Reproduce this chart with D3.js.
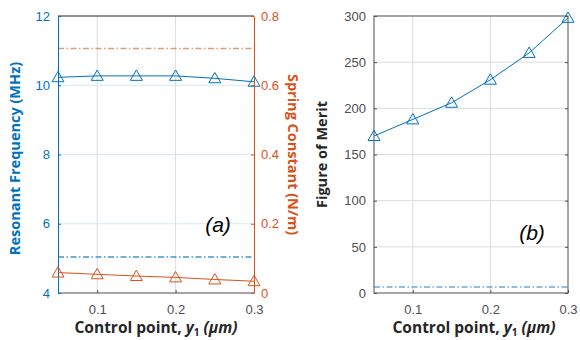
<!DOCTYPE html>
<html>
<head>
<meta charset="utf-8">
<script src="https://cdn.jsdelivr.net/npm/d3@7"></script>
<style>
  body { margin: 0; background: #fff; }
  svg { display: block; }
</style>
</head>
<body>
<div id="chart"></div>
<script>
// data
var controlPoints = [0.05, 0.1, 0.15, 0.2, 0.25, 0.3];
var resonantFreq = [10.23, 10.27, 10.27, 10.27, 10.2, 10.1];
var springConst = [0.059, 0.054, 0.049, 0.045, 0.039, 0.034];
var figureOfMerit = [170, 188, 206, 231, 260, 298];
var freqLimit = 5.04;
var springLimit = 0.706;
var meritLimit = 6.5;

var xTicks = [0.1, 0.2, 0.3];
var freqTicks = [4, 6, 8, 10, 12];
var springTicks = [0, 0.2, 0.4, 0.6, 0.8];
var meritTicks = [0, 50, 100, 150, 200, 250, 300];

var blue = "#0072BD";
var orange = "#D95319";
var tickFont = "Liberation Sans, Arial, sans-serif";
var labelFont = "Open Sans, Noto Sans, sans-serif";

var svg = d3.select("#chart").append("svg")
  .attr("width", 580)
  .attr("height", 340);

// "top" is taken by window.top, so use other names
var plotTop = 16, plotBottom = 293;

// dash-dot like matlab
var dashDot = "6,2.5,1.5,2.5";

function triangle(g, pts, color) {
  g.selectAll(".mk").data(pts).enter().append("path")
    .attr("d", d3.symbol().type(d3.symbolTriangle).size(62))
    .attr("transform", d => `translate(${d[0]},${d[1] + 1})`)
    .attr("fill", "none")
    .attr("stroke", color)
    .attr("stroke-width", 1);
}

// ---------- panel (a) ----------
var xA = d3.scaleLinear().domain([0.05, 0.3]).range([58, 254]);
var yFreq = d3.scaleLinear().domain([4, 12]).range([plotBottom, plotTop]);
var ySpring = d3.scaleLinear().domain([0, 0.8]).range([plotBottom, plotTop]);

var gA = svg.append("g");

// grid
gA.selectAll(".vgrid").data(xTicks.filter(t => t < 0.3)).enter().append("line")
  .attr("x1", d => xA(d)).attr("x2", d => xA(d))
  .attr("y1", plotTop).attr("y2", plotBottom)
  .attr("stroke", "#dcdcdc").attr("stroke-width", 1);
gA.selectAll(".hgrid").data(freqTicks.slice(1, -1)).enter().append("line")
  .attr("x1", 58).attr("x2", 254)
  .attr("y1", d => yFreq(d)).attr("y2", d => yFreq(d))
  .attr("stroke", "#d6e8f5").attr("stroke-width", 1);

// limits
gA.append("line")
  .attr("x1", 58).attr("x2", 254)
  .attr("y1", ySpring(springLimit)).attr("y2", ySpring(springLimit))
  .attr("stroke", orange).attr("stroke-opacity", 0.6).attr("stroke-width", 1.5)
  .attr("stroke-dasharray", dashDot);
gA.append("line")
  .attr("x1", 58).attr("x2", 254)
  .attr("y1", yFreq(freqLimit)).attr("y2", yFreq(freqLimit))
  .attr("stroke", blue).attr("stroke-opacity", 0.75).attr("stroke-width", 1.5)
  .attr("stroke-dasharray", dashDot);

// box
gA.append("line").attr("x1", 58).attr("x2", 254).attr("y1", plotTop).attr("y2", plotTop)
  .attr("stroke", "#262626").attr("stroke-width", 1);
gA.append("line").attr("x1", 58).attr("x2", 254).attr("y1", plotBottom).attr("y2", plotBottom)
  .attr("stroke", "#4d4d4d").attr("stroke-width", 1);

// x axis ticks
var axA = gA.append("g").attr("transform", `translate(0,${plotBottom})`)
  .call(d3.axisBottom(xA).tickValues(xTicks).tickFormat(d3.format(".1f")).tickSizeInner(-3).tickSizeOuter(0).tickPadding(12));
axA.select(".domain").remove();
axA.selectAll("line").attr("stroke", "#4d4d4d");
axA.selectAll("text").attr("fill", "#4d4d4d").attr("font-family", tickFont).attr("font-size", 13);

// left y axis
var ayF = gA.append("g").attr("transform", "translate(58,0)")
  .call(d3.axisLeft(yFreq).tickValues(freqTicks).tickSizeInner(-3).tickSizeOuter(0).tickPadding(8));
ayF.select(".domain").attr("stroke", blue);
ayF.selectAll("line").attr("stroke", blue);
ayF.selectAll("text").attr("fill", blue).attr("font-family", tickFont).attr("font-size", 13);

// right y axis
var ayS = gA.append("g").attr("transform", "translate(254,0)")
  .call(d3.axisRight(ySpring).tickValues(springTicks).tickFormat(d => d === 0 ? "0" : d3.format(".1f")(d)).tickSizeInner(-3).tickSizeOuter(0).tickPadding(7));
ayS.select(".domain").attr("stroke", orange);
ayS.selectAll("line").attr("stroke", orange);
ayS.selectAll("text").attr("fill", orange).attr("font-family", tickFont).attr("font-size", 13);

// series
var freqPts = controlPoints.map((c, i) => [xA(c), yFreq(resonantFreq[i])]);
var springPts = controlPoints.map((c, i) => [xA(c), ySpring(springConst[i])]);
gA.append("path").attr("d", d3.line()(freqPts))
  .attr("fill", "none").attr("stroke", blue).attr("stroke-width", 1);
triangle(gA.append("g"), freqPts, blue);
gA.append("path").attr("d", d3.line()(springPts))
  .attr("fill", "none").attr("stroke", orange).attr("stroke-width", 1);
triangle(gA.append("g"), springPts, orange);

// labels
gA.append("text").attr("x", 218).attr("y", 232).attr("text-anchor", "middle")
  .attr("font-family", tickFont).attr("font-style", "italic").attr("font-size", 21)
  .attr("fill", "#000").text("(a)");
gA.append("text")
  .attr("transform", `translate(20,${(plotTop + plotBottom) / 2 + 4}) rotate(-90)`)
  .attr("text-anchor", "middle").attr("font-family", labelFont).attr("font-weight", "bold")
  .attr("font-size", 14.5).attr("fill", blue).text("Resonant Frequency (MHz)");
gA.append("text")
  .attr("transform", `translate(288,${(plotTop + plotBottom) / 2}) rotate(90)`)
  .attr("text-anchor", "middle").attr("font-family", labelFont).attr("font-weight", "bold")
  .attr("font-size", 14.5).attr("fill", orange).text("Spring Constant (N/m)");

function xLabel(g, cx) {
  var t = g.append("text").attr("x", cx).attr("y", 333).attr("text-anchor", "middle")
    .attr("font-family", labelFont).attr("font-weight", "bold").attr("font-size", 15.5)
    .attr("fill", "#262626");
  t.append("tspan").text("Control point, ");
  t.append("tspan").attr("font-style", "italic").text("y");
  t.append("tspan").attr("font-size", 10).attr("dy", 3).text("1");
  t.append("tspan").attr("dy", -3).attr("font-style", "italic").text(" (μm)");
}
xLabel(gA, 156);

// ---------- panel (b) ----------
var xB = d3.scaleLinear().domain([0.05, 0.3]).range([374, 568]);
var yMerit = d3.scaleLinear().domain([0, 300]).range([plotBottom, plotTop]);
var gB = svg.append("g");

gB.selectAll(".vgrid").data(xTicks.filter(t => t < 0.3)).enter().append("line")
  .attr("x1", d => xB(d)).attr("x2", d => xB(d))
  .attr("y1", plotTop).attr("y2", plotBottom)
  .attr("stroke", "#dcdcdc").attr("stroke-width", 1);
gB.selectAll(".hgrid").data(meritTicks.slice(1, -1)).enter().append("line")
  .attr("x1", 374).attr("x2", 568)
  .attr("y1", d => yMerit(d)).attr("y2", d => yMerit(d))
  .attr("stroke", "#dcdcdc").attr("stroke-width", 1);

gB.append("line")
  .attr("x1", 374).attr("x2", 568)
  .attr("y1", yMerit(meritLimit)).attr("y2", yMerit(meritLimit))
  .attr("stroke", blue).attr("stroke-opacity", 0.6).attr("stroke-width", 1.5)
  .attr("stroke-dasharray", dashDot);

gB.append("rect").attr("x", 374).attr("y", plotTop).attr("width", 194).attr("height", plotBottom - plotTop)
  .attr("fill", "none").attr("stroke", "#4d4d4d").attr("stroke-width", 1);

var axB = gB.append("g").attr("transform", `translate(0,${plotBottom})`)
  .call(d3.axisBottom(xB).tickValues(xTicks).tickFormat(d3.format(".1f")).tickSizeInner(-3).tickSizeOuter(0).tickPadding(12));
axB.select(".domain").remove();
axB.selectAll("line").attr("stroke", "#4d4d4d");
axB.selectAll("text").attr("fill", "#4d4d4d").attr("font-family", tickFont).attr("font-size", 13);

var ayM = gB.append("g").attr("transform", "translate(374,0)")
  .call(d3.axisLeft(yMerit).tickValues(meritTicks).tickSizeInner(-3).tickSizeOuter(0).tickPadding(8));
ayM.select(".domain").remove();
ayM.selectAll("line").attr("stroke", "#4d4d4d");
ayM.selectAll("text").attr("fill", "#4d4d4d").attr("font-family", tickFont).attr("font-size", 13);

// right side ticks
var ayM2 = gB.append("g").attr("transform", "translate(568,0)")
  .call(d3.axisRight(yMerit).tickValues(meritTicks).tickSizeInner(-3).tickSizeOuter(0).tickFormat(""));
ayM2.select(".domain").remove();
ayM2.selectAll("line").attr("stroke", "#4d4d4d");

var meritPts = controlPoints.map((c, i) => [xB(c), yMerit(figureOfMerit[i])]);
gB.append("path").attr("d", d3.line()(meritPts))
  .attr("fill", "none").attr("stroke", blue).attr("stroke-width", 1);
triangle(gB.append("g"), meritPts, blue);

gB.append("text").attr("x", 532).attr("y", 240).attr("text-anchor", "middle")
  .attr("font-family", tickFont).attr("font-style", "italic").attr("font-size", 21)
  .attr("fill", "#000").text("(b)");
gB.append("text")
  .attr("transform", `translate(327,${(plotTop + plotBottom) / 2}) rotate(-90)`)
  .attr("text-anchor", "middle").attr("font-family", labelFont).attr("font-weight", "bold")
  .attr("font-size", 14.5).attr("fill", "#262626").text("Figure of Merit");
xLabel(gB, 474);
</script>
</body>
</html>
